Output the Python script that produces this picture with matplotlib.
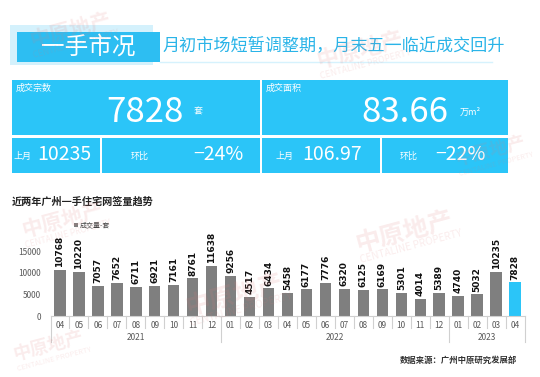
import matplotlib.pyplot as plt
from matplotlib.patches import Rectangle
from matplotlib.transforms import blended_transform_factory
import numpy as np

plt.rcParams['font.family'] = ['Noto Sans CJK SC', 'DejaVu Sans']

# monthly new-home contracts, Guangzhou
months = ['04', '05', '06', '07', '08', '09', '10', '11', '12',
          '01', '02', '03', '04', '05', '06', '07', '08', '09', '10', '11', '12',
          '01', '02', '03', '04']
sales = [10768, 10220, 7057, 7652, 6711, 6921, 7161, 8761, 11638,
         9256, 4517, 6434, 5458, 6177, 7776, 6320, 6125, 6169, 5301, 4014, 5389,
         4740, 5032, 10235, 7828]
years = ['2021', '2022', '2023']
year_counts = [9, 12, 4]

# summary panel
deals = '7828'
deals_prev = '10235'
deals_mom = '−24%'
area = '83.66'
area_prev = '106.97'
area_mom = '−22%'

CYAN = '#2BC5F8'
GRAY = '#7F7F7F'
W, H = 540, 377

fig = plt.figure(figsize=(W / 100, H / 100), dpi=100)
bg = fig.add_axes([0, 0, 1, 1])
bg.set_xlim(0, W)
bg.set_ylim(H, 0)
bg.axis('off')

# header
bg.add_patch(Rectangle((10, 25), 143, 40, color='#D4F1FC', lw=0))
bg.add_patch(Rectangle((17, 32), 143, 30, color='#2DBEF2', lw=0))
bg.plot([160, 492], [62, 62], color='#D6F2FD', lw=1)
bg.text(88, 47, '一手市况', color='white', fontsize=17, ha='center', va='center')
bg.text(163, 46, '月初市场短暂调整期，月末五一临近成交回升', color='#2AB4E8',
        fontsize=12.3, ha='left', va='center')

# summary boxes
for x0, y0, w, h in [(12, 80, 248, 55), (262, 80, 246, 55),
                     (12, 138, 88, 35), (102, 138, 158, 35),
                     (262, 138, 118, 35), (382, 138, 126, 35)]:
    bg.add_patch(Rectangle((x0, y0), w, h, color=CYAN, lw=0))

bg.text(16, 88, '成交宗数', color='white', fontsize=6.5, va='center')
bg.text(145, 113, deals, color='white', fontsize=25, ha='center', va='center')
bg.text(198, 112, '套', color='white', fontsize=6.5, ha='center', va='center')
bg.text(266, 88, '成交面积', color='white', fontsize=6.5, va='center')
bg.text(405, 113, area, color='white', fontsize=25, ha='center', va='center')
bg.text(470, 112, '万m²', color='white', fontsize=6.5, ha='center', va='center')

bg.text(14, 156, '上月', color='white', fontsize=6.5, va='center')
bg.text(64, 155, deals_prev, color='white', fontsize=14, ha='center', va='center')
bg.text(140, 156, '环比', color='white', fontsize=6.5, ha='center', va='center')
bg.text(218, 155, deals_mom, color='white', fontsize=14, ha='center', va='center')
bg.text(276, 156, '上月', color='white', fontsize=6.5, va='center')
bg.text(332, 155, area_prev, color='white', fontsize=14, ha='center', va='center')
bg.text(409, 156, '环比', color='white', fontsize=6.5, ha='center', va='center')
bg.text(460, 155, area_mom, color='white', fontsize=14, ha='center', va='center')

# chart title, legend, source
bg.text(12, 202, '近两年广州一手住宅网签量趋势', fontsize=7.3, fontweight='bold',
        color='#222222', va='center')
bg.add_patch(Rectangle((74, 223), 3.5, 3.5, color=GRAY, lw=0))
bg.text(80, 225, '成交量-套', fontsize=5, color='#444444', va='center')
bg.text(517, 360, '数据来源：广州中原研究发展部', fontsize=6, fontweight='bold',
        color='#333333', ha='right', va='center')

# bar chart
ax = fig.add_axes([50.5 / W, 1 - 316 / H, 474 / W, 86 / H])
x = np.arange(len(sales))
colors = [GRAY] * (len(sales) - 1) + [CYAN]
ax.bar(x, sales, width=0.6, color=colors)
ax.set_xlim(-0.5, len(sales) - 0.5)
ax.set_ylim(0, 20000)
ax.set_yticks([0, 5000, 10000, 15000])
ax.tick_params(axis='y', length=0, labelsize=6, labelcolor='#595959', pad=7)
ax.set_xticks([])
for s in ['top', 'right', 'left']:
    ax.spines[s].set_visible(False)
ax.spines['bottom'].set_color('#D0D0D0')
ax.spines['bottom'].set_linewidth(0.8)
ax.patch.set_alpha(0)

for i, v in enumerate(sales):
    ax.annotate(str(v), (i, v), xytext=(0, 2), textcoords='offset points',
                rotation=90, ha='center', va='bottom', fontsize=6.5,
                fontweight='bold', color='#111111', family=['DejaVu Sans'])

tr = blended_transform_factory(ax.transData, ax.transAxes)
for i, m in enumerate(months):
    ax.text(i, -0.105, m, transform=tr, ha='center', va='center',
            fontsize=6, color='#595959')

bounds = np.cumsum([0] + year_counts) - 0.5
for i in range(len(sales) + 1):
    xb = i - 0.5
    low = -0.30 if xb in bounds else -0.14
    ax.plot([xb, xb], [0, low], transform=tr, color='#D0D0D0', lw=0.8,
            clip_on=False)
for k, yr in enumerate(years):
    ax.text((bounds[k] + bounds[k + 1]) / 2, -0.245, yr, transform=tr,
            ha='center', va='center', fontsize=6, color='#595959')

# faint watermarks
wm = fig.add_axes([0, 0, 1, 1])
wm.set_xlim(0, W)
wm.set_ylim(H, 0)
wm.axis('off')
for wx, wy, sz in [(70, 30, 15), (360, 50, 16), (62, 220, 15), (235, 295, 18),
                   (405, 232, 18), (48, 345, 13), (490, 150, 13)]:
    wm.text(wx, wy, '中原地产', color='#E07878', alpha=0.14, fontsize=sz,
            fontweight='bold', rotation=15, ha='center', va='center')
    wm.text(wx + 6, wy + 14, 'CENTALINE PROPERTY', color='#E07878', alpha=0.14,
            fontsize=sz * 0.4, rotation=15, ha='center', va='center')

fig.savefig('out.png', dpi=100)
